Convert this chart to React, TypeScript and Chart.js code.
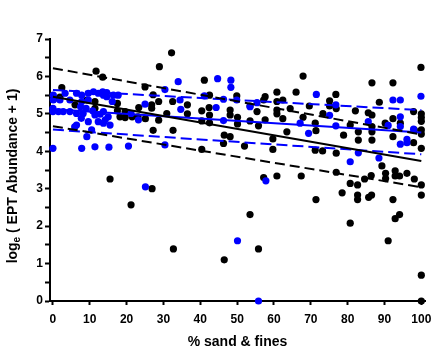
import React, { useEffect, useRef } from "react";
import { Chart, registerables } from "chart.js";

Chart.register(...registerables);

const xTickValues = [0, 10, 20, 30, 40, 50, 60, 70, 80, 90, 100];
const yTickValues = [0, 0.5, 1, 1.5, 2, 2.5, 3, 3.5, 4, 4.5, 5, 5.5, 6, 6.5, 7];

const xTitle = "% sand & fines";
const yTitleMain = "log";
const yTitleSub = "e";
const yTitleRest = " ( EPT Abundance + 1)";

// fitted lines: values at x = 0 and x = 100
const fitX = [0, 100];
const blackFitY = [5.46, 3.74];
const blackUpperY = [6.22, 4.45];
const blackLowerY = [4.67, 3.04];
const blueFitY = [5.12, 4.5];
const blueUpperY = [5.64, 5.1];
const blueLowerY = [4.58, 3.92];

const blackPts: number[][] = [
  [1.9, 5.45], [2.4, 5.7], [0.5, 5.42], [6.0, 5.24], [9.2, 5.37], [11.4, 5.33], [11.4, 5.15], [11.7, 6.14], [13.5, 5.98],
  [17.5, 5.28], [17.5, 5.08], [18.2, 4.92], [19.6, 4.9], [19.6, 5.06], [21.5, 4.92], [23.1, 4.92], [23.3, 5.17],
  [25.1, 4.87], [25.0, 5.72], [27.2, 5.51], [26.8, 5.24], [26.8, 5.15], [28.7, 5.33], [28.7, 4.83], [27.2, 4.56],
  [28.9, 6.26], [30.9, 5.01], [32.2, 6.63], [32.6, 4.56], [32.5, 5.33], [15.5, 3.26], [26.9, 3.0], [21.2, 2.57], [32.7, 1.39],
  [36.5, 5.24], [36.5, 5.0], [40.4, 5.08], [40.4, 4.81], [40.4, 4.05], [41.1, 5.9], [42.5, 5.5], [42.4, 5.17], [42.5, 4.97],
  [42.5, 4.76], [46.5, 4.43], [46.3, 4.21], [48.1, 5.1], [48.1, 4.97], [48.1, 4.39], [49.9, 5.48], [50.1, 4.91], [50.1, 4.73],
  [52.0, 4.14], [53.5, 5.21], [53.5, 4.81], [55.4, 5.06], [55.8, 4.68], [57.6, 5.46], [57.2, 5.37], [57.6, 4.84], [59.7, 4.33],
  [59.7, 4.05], [60.8, 5.58], [60.8, 5.33], [60.8, 5.1], [60.8, 5.0], [62.4, 5.37], [62.4, 4.87], [63.5, 4.52], [64.4, 5.14],
  [66.0, 5.58], [67.9, 6.01], [67.9, 4.91], [69.6, 5.21],
  [57.2, 3.3], [60.8, 3.34], [67.4, 3.34], [53.5, 2.31], [55.8, 1.39], [46.5, 1.1],
  [71.2, 4.75], [71.4, 4.55], [71.2, 4.03], [73.2, 4.01], [73.3, 5.01], [75.1, 5.35], [75.1, 5.21], [76.8, 5.52], [76.9, 5.14],
  [76.9, 3.95], [78.9, 4.43], [80.7, 4.7], [82.1, 5.08], [82.9, 4.52], [82.9, 4.3], [85.6, 5.03], [86.6, 4.97], [86.6, 4.66],
  [86.6, 4.52], [86.6, 4.3], [86.6, 5.83], [88.6, 5.31], [89.3, 3.61], [90.2, 4.75], [92.3, 5.83], [92.3, 4.87], [92.3, 4.39],
  [94.3, 4.75], [97.9, 5.06], [97.9, 4.23], [98.1, 4.57], [99.9, 6.24], [100, 5.0], [100, 4.9], [100, 4.8], [100, 4.57],
  [100, 4.46], [100, 4.08],
  [76.9, 3.44], [80.7, 3.14], [82.7, 3.1], [84.6, 3.26], [86.4, 3.35], [90.3, 3.41], [90.3, 3.27], [92.9, 3.48], [92.9, 3.34],
  [94.1, 3.34], [96.1, 3.41], [98.1, 3.26], [100, 3.1], [100, 2.83], [71.4, 2.71], [78.5, 2.89], [82.7, 2.83], [82.7, 2.71],
  [85.7, 2.77], [86.5, 2.83], [92.3, 2.71], [80.7, 2.08], [92.9, 2.2], [94.1, 2.31], [91.0, 1.61], [100, 0.69], [100, 0],
];

const bluePts: number[][] = [
  [0.1, 5.5], [0.1, 5.37], [0, 5.15], [0, 5.06], [1.5, 5.06], [2.8, 5.06], [4.6, 5.06], [1.9, 5.37], [3.3, 5.55], [4.6, 5.37],
  [6.4, 5.55], [7.8, 5.5], [9.6, 5.55], [11.0, 5.59], [12.3, 5.55], [13.5, 5.59], [13.7, 5.5], [14.6, 5.46], [7.8, 5.33],
  [9.6, 5.37], [7.5, 5.19], [9.0, 5.15], [10.8, 5.08], [12.8, 4.99], [6.4, 5.01], [8.2, 5.01], [11.4, 4.97], [7.7, 4.88],
  [9.6, 4.79], [12.3, 4.79], [13.7, 4.75], [14.2, 4.84], [6.4, 4.7], [5.9, 4.65], [10.5, 4.57], [9.2, 4.39], [0, 4.08],
  [7.8, 4.08], [11.4, 4.12], [15.2, 4.11], [13.7, 5.06], [15.0, 4.92], [14.6, 5.57], [16.4, 5.5], [17.7, 5.5], [16.1, 5.33],
  [25.0, 5.26], [21.2, 5.01], [23.2, 4.84], [15.5, 4.7], [20.5, 4.14], [30.4, 4.17], [30.4, 5.65],
  [34.0, 5.86], [44.7, 5.94], [48.3, 5.9], [48.3, 5.71], [41.1, 5.48], [46.3, 5.39], [49.9, 5.37], [55.4, 5.3], [34.5, 5.37],
  [34.7, 5.12], [44.3, 5.17], [53.5, 5.19], [46.3, 4.82], [67.1, 4.75], [69.4, 4.48], [25.1, 3.05], [57.8, 3.21], [50.1, 1.61],
  [55.8, 0],
  [71.5, 5.52], [76.8, 5.24], [75.1, 4.96], [76.8, 4.68], [82.9, 3.96], [80.7, 3.72], [85.6, 4.79], [88.5, 3.82], [99.9, 5.47],
  [92.3, 5.37], [94.3, 5.37], [94.3, 4.92], [91.0, 4.69], [94.3, 4.66], [97.9, 4.59], [96.1, 4.32], [96.1, 4.23], [94.3, 4.19],
];

const BLUE = "#0000ff";
const BLACK = "#000000";
const FONT = "'Liberation Sans', Arial, sans-serif";

const toXY = (pts: number[][]) => pts.map(([x, y]) => ({ x, y }));
const lineXY = (ys: number[]) => fitX.map((x, i) => ({ x, y: ys[i] }));

const yTitlePlugin = {
  id: "yTitleSub",
  afterDraw(chart: any) {
    const { ctx, chartArea } = chart;
    const cy = (chartArea.top + chartArea.bottom) / 2 + 6;
    const cx = 13;
    const big = `bold 14px ${FONT}`;
    const small = `bold 10px ${FONT}`;
    ctx.save();
    ctx.font = big;
    const w1 = ctx.measureText(yTitleMain).width;
    const w3 = ctx.measureText(yTitleRest).width;
    ctx.font = small;
    const w2 = ctx.measureText(yTitleSub).width;
    const total = w1 + w2 + w3;
    ctx.translate(cx, cy);
    ctx.rotate(-Math.PI / 2);
    ctx.fillStyle = BLACK;
    ctx.textBaseline = "middle";
    ctx.textAlign = "left";
    let x = -total / 2;
    ctx.font = big;
    ctx.fillText(yTitleMain, x, 0);
    x += w1;
    ctx.font = small;
    ctx.fillText(yTitleSub, x, 4);
    x += w2;
    ctx.font = big;
    ctx.fillText(yTitleRest, x, 0);
    ctx.restore();
  },
};

export default function App() {
  const ref = useRef<HTMLCanvasElement | null>(null);
  useEffect(() => {
    if (!ref.current) return;
    const lineDs = (ys: number[], color: string, dash: number[]) => ({
      type: "line" as const,
      data: lineXY(ys),
      borderColor: color,
      backgroundColor: color,
      borderWidth: 2,
      borderDash: dash,
      pointRadius: 0,
      showLine: true,
      fill: false,
      order: 0,
      clip: false as const,
    });
    const chart = new Chart(ref.current, {
      type: "scatter",
      data: {
        datasets: [
          {
            data: toXY(blackPts),
            backgroundColor: BLACK,
            borderWidth: 0,
            pointRadius: 3.6,
            order: 2,
            clip: false as any,
          },
          {
            data: toXY(bluePts),
            backgroundColor: BLUE,
            borderWidth: 0,
            pointRadius: 3.6,
            order: 1,
            clip: false as any,
          },
          lineDs(blackUpperY, BLACK, [10, 5]),
          lineDs(blackLowerY, BLACK, [10, 5]),
          lineDs(blackFitY, BLACK, []),
          lineDs(blueUpperY, BLUE, [11, 5]),
          lineDs(blueLowerY, BLUE, [11, 5]),
          lineDs(blueFitY, BLUE, []),
        ] as any,
      },
      options: {
        responsive: false,
        animation: false,
        devicePixelRatio: 1,
        layout: { padding: { top: 39, right: 20, bottom: 0, left: 0 } },
        plugins: { legend: { display: false }, tooltip: { enabled: false }, title: { display: false } },
        scales: {
          x: {
            type: "linear",
            min: -0.8,
            max: 101,
            afterBuildTicks: (s: any) => {
              s.ticks = xTickValues.map((v) => ({ value: v }));
            },
            afterFit: (s: any) => {
              s.height = 53;
            },
            border: { display: true, color: BLACK, width: 2 },
            grid: { drawOnChartArea: false, drawTicks: true, tickLength: 4, tickWidth: 2, tickColor: BLACK, color: BLACK },
            ticks: {
              color: BLACK,
              padding: 7,
              maxRotation: 0,
              autoSkip: false,
              font: { family: FONT, size: 12, weight: "bold" },
              callback: (v: any) => String(v),
            },
            title: {
              display: true,
              text: xTitle,
              color: BLACK,
              font: { family: FONT, size: 14, weight: "bold" },
              padding: { top: 0, bottom: 3 },
            },
          },
          y: {
            type: "linear",
            min: 0,
            max: 7,
            afterBuildTicks: (s: any) => {
              s.ticks = yTickValues.map((v) => ({ value: v }));
            },
            afterFit: (s: any) => {
              s.width = 50;
            },
            border: { display: true, color: BLACK, width: 2 },
            grid: { drawOnChartArea: false, drawTicks: true, tickLength: 5, tickWidth: 2, tickColor: BLACK, color: BLACK },
            ticks: {
              color: BLACK,
              padding: 2,
              autoSkip: false,
              font: { family: FONT, size: 12, weight: "bold" },
              callback: (v: any) => (Number(v) % 1 === 0 ? String(v) : ""),
            },
          },
        },
      } as any,
      plugins: [yTitlePlugin],
    });
    return () => chart.destroy();
  }, []);
  return (
    <div style={{ position: "absolute", left: 0, top: 0, width: 445, height: 354, background: "#fff" }}>
      <canvas ref={ref} width={445} height={354} style={{ width: 445, height: 354, display: "block" }} />
    </div>
  );
}
